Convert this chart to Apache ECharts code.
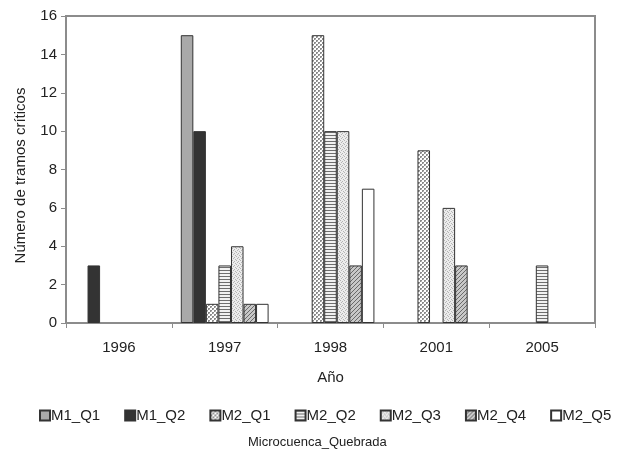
<!DOCTYPE html>
<html>
<head>
<meta charset="utf-8">
<script src="https://cdn.jsdelivr.net/npm/echarts@6/dist/echarts.min.js"></script>
<style>
html,body{margin:0;padding:0;background:#fff;}
#c{width:621px;height:451px;}
</style>
</head>
<body>
<div id="c"></div>
<script>
const years = ['1996', '1997', '1998', '2001', '2005'];
const seriesNames = ['M1_Q1', 'M1_Q2', 'M2_Q1', 'M2_Q2', 'M2_Q3', 'M2_Q4', 'M2_Q5'];
const M1_Q1 = [0, 15, 0, 0, 0];
const M1_Q2 = [3, 10, 0, 0, 0];
const M2_Q1 = [0, 1, 15, 9, 0];
const M2_Q2 = [0, 3, 10, 0, 3];
const M2_Q3 = [0, 4, 10, 6, 0];
const M2_Q4 = [0, 1, 3, 3, 0];
const M2_Q5 = [0, 1, 7, 0, 0];
const yTicks = [0, 2, 4, 6, 8, 10, 12, 14, 16];

const seriesValues = [M1_Q1, M1_Q2, M2_Q1, M2_Q2, M2_Q3, M2_Q4, M2_Q5];

function makeTile(w, h, draw) {
  const c = document.createElement('canvas');
  c.width = w; c.height = h;
  const ctx = c.getContext('2d');
  draw(ctx);
  return { image: c, repeat: 'repeat' };
}
function px(ctx, col, pts) {
  ctx.fillStyle = col;
  pts.forEach(p => ctx.fillRect(p[0], p[1], 1, 1));
}
const fills = [
  '#a9a9a9',
  '#333333',
  makeTile(4, 4, ctx => {
    ctx.fillStyle = '#ffffff'; ctx.fillRect(0, 0, 4, 4);
    px(ctx, '#8a8a8a', [[0,0],[1,0],[0,1],[2,2],[3,2],[2,3]]);
    px(ctx, '#bbbbbb', [[1,1],[3,3]]);
  }),
  makeTile(2, 3, ctx => {
    ctx.fillStyle = '#f2f2f2'; ctx.fillRect(0, 0, 2, 3);
    ctx.fillStyle = '#6e6e6e'; ctx.fillRect(0, 0, 2, 1);
  }),
  makeTile(4, 4, ctx => {
    ctx.fillStyle = '#ececec'; ctx.fillRect(0, 0, 4, 4);
    px(ctx, '#b4b4b4', [[0,0],[2,1],[1,2],[3,3]]);
  }),
  makeTile(4, 4, ctx => {
    ctx.fillStyle = '#c8c8c8'; ctx.fillRect(0, 0, 4, 4);
    px(ctx, '#6a6a6a', [[3,0],[2,1],[1,2],[0,3]]);
  }),
  '#ffffff'
];

const FONT = 'Arial, "Liberation Sans", sans-serif';

const chart = echarts.init(document.getElementById('c'), null, { renderer: 'canvas' });
chart.setOption({
  animation: false,
  backgroundColor: '#ffffff',
  grid: { left: 66, right: 26, top: 16, bottom: 128, show: true, borderColor: '#8c8c8c', borderWidth: 2 },
  legend: {
    data: seriesNames,
    left: 39, top: 408, width: 610,
    padding: 0,
    itemWidth: 10, itemHeight: 10, itemGap: 24,
    icon: 'rect',
    textStyle: { fontFamily: FONT, fontSize: 15, color: '#222', padding: [0, 0, 0, -4] }
  },
  xAxis: {
    type: 'category',
    data: years,
    name: 'Año',
    nameLocation: 'middle',
    nameGap: 47,
    nameTextStyle: { fontFamily: FONT, fontSize: 15, color: '#222' },
    axisLine: { lineStyle: { color: '#8c8c8c', width: 2 } },
    axisTick: { show: true, length: 5, lineStyle: { color: '#8c8c8c', width: 1 } },
    axisLabel: { fontFamily: FONT, fontSize: 15, color: '#222', margin: 17 },
    splitLine: { show: false }
  },
  yAxis: {
    type: 'value',
    min: yTicks[0], max: yTicks[yTicks.length - 1], interval: yTicks[1] - yTicks[0],
    name: 'Número de tramos críticos',
    nameLocation: 'middle',
    nameGap: 38,
    nameRotate: 90,
    nameTextStyle: { fontFamily: FONT, fontSize: 15, color: '#222', padding: [0, 12, 0, 0] },
    axisLine: { show: true, lineStyle: { color: '#8c8c8c', width: 2 } },
    axisTick: { show: true, length: 5, lineStyle: { color: '#8c8c8c', width: 1 } },
    axisLabel: { fontFamily: FONT, fontSize: 15, color: '#222', margin: 9 },
    splitLine: { show: false }
  },
  graphic: [{
    type: 'text',
    left: 317 - 69, top: 436,
    style: { text: 'Microcuenca_Quebrada', fontFamily: FONT, fontSize: 13, fill: '#222' }
  }],
  series: seriesNames.map((n, i) => ({
    name: n,
    type: 'bar',
    barGap: '0%',
    barCategoryGap: '17%',
    data: seriesValues[i].map(v => v === 0 ? '-' : v),
    itemStyle: { color: fills[i], borderColor: '#333', borderWidth: 1 },
    emphasis: { disabled: true }
  }))
});
</script>
</body>
</html>
